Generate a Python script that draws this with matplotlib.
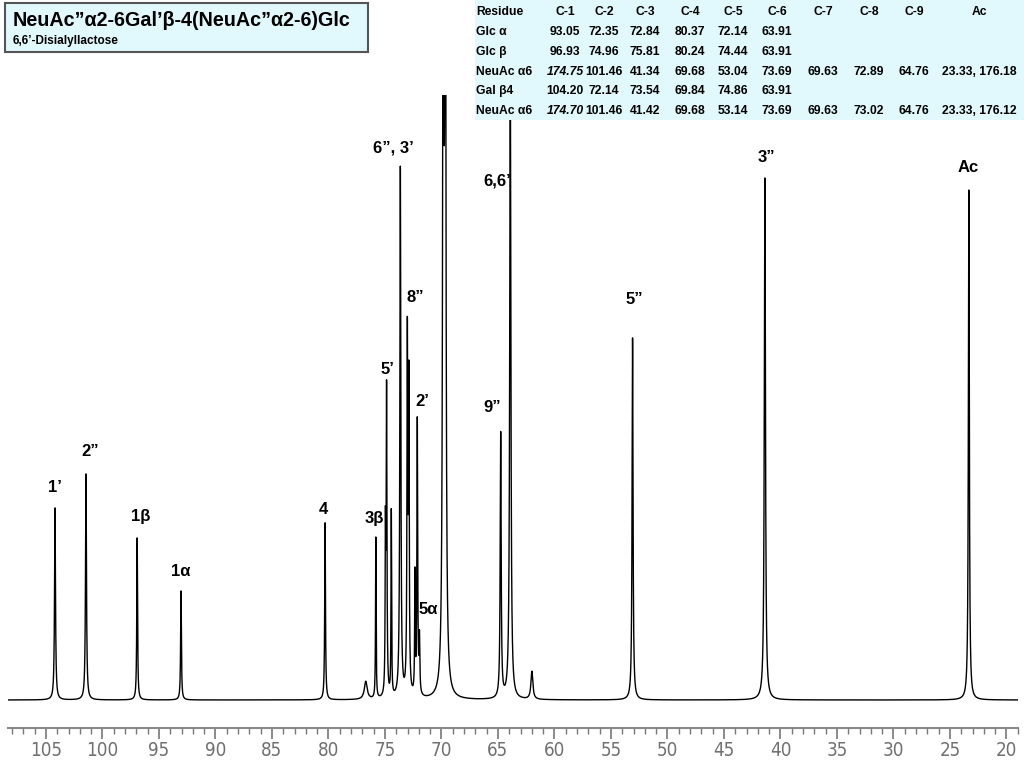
import matplotlib
matplotlib.use('agg')
import matplotlib.pyplot as plt
from matplotlib.patches import Rectangle
from matplotlib.ticker import MultipleLocator
import numpy as np

plt.rcParams['font.family'] = ['Liberation Sans', 'DejaVu Sans']

# peak list (ppm, height above baseline, half width)
peak_ppm = [104.20, 101.46, 96.93, 93.05, 80.30, 76.70, 75.81, 74.96, 74.86, 74.44,
            73.64, 73.02, 72.89, 72.35, 72.14, 71.95, 69.84, 69.66, 64.76, 63.91,
            62.00, 53.09, 41.38, 23.33]
peak_height = [192, 226, 162, 109, 177, 18, 161, 150, 305, 185,
               530, 352, 305, 118, 275, 55, 900, 900, 265, 640,
               28, 362, 522, 510]
peak_hwhm = [0.05, 0.05, 0.04, 0.04, 0.04, 0.15, 0.03, 0.03, 0.04, 0.03,
             0.05, 0.04, 0.04, 0.03, 0.04, 0.04, 0.06, 0.06, 0.05, 0.06,
             0.10, 0.05, 0.06, 0.05]

# assignments: label, ppm, height where the label sits
labels = [("1’", 104.2, 213), ("2”", 101.1, 248), ("1β", 96.59, 184), ("1α", 93.05, 129),
          ("4", 80.48, 190), ("3β", 75.97, 181), ("5’", 74.82, 331), ("6”, 3’", 74.29, 552),
          ("8”", 72.34, 403), ("2’", 71.72, 298), ("5α", 71.19, 90), ("9”", 65.53, 292),
          ("6,6’", 65.08, 519), ("5”", 52.96, 400), ("3”", 41.28, 543), ("Ac", 23.39, 532)]

# shift table
tab_cols = ["Residue", "C-1", "C-2", "C-3", "C-4", "C-5", "C-6", "C-7", "C-8", "C-9", "Ac"]
tab_rows = ["Glc α", "Glc β", "NeuAc α6", "Gal β4", "NeuAc α6"]
tab_vals = [
    ["93.05", "72.35", "72.84", "80.37", "72.14", "63.91", "", "", "", ""],
    ["96.93", "74.96", "75.81", "80.24", "74.44", "63.91", "", "", "", ""],
    ["174.75", "101.46", "41.34", "69.68", "53.04", "73.69", "69.63", "72.89", "64.76", "23.33, 176.18"],
    ["104.20", "72.14", "73.54", "69.84", "74.86", "63.91", "", "", "", ""],
    ["174.70", "101.46", "41.42", "69.68", "53.14", "73.69", "69.63", "73.02", "64.76", "23.33, 176.12"],
]

W, H = 1024, 768
fig = plt.figure(figsize=(W / 100, H / 100), dpi=100)
fig.patch.set_facecolor('white')

def fx(px):
    return px / W

def fy(py):
    return 1 - py / H

ax = fig.add_axes([fx(8), fy(728), fx(1018) - fx(8), fy(95) - fy(728)])

ppm = np.arange(108.4, 18.98, -0.005)
spec = np.zeros_like(ppm)
for p, h, w in zip(peak_ppm, peak_height, peak_hwhm):
    spec += h * w**2 / ((ppm - p)**2 + w**2)
ax.plot(ppm, spec, color='black', lw=1.0)

ax.set_xlim(108.36, 18.98)
ax.set_ylim(-28, 605)
for s in ['top', 'left', 'right']:
    ax.spines[s].set_visible(False)
ax.spines['bottom'].set_color('#888888')
ax.spines['bottom'].set_linewidth(1.5)
ax.set_yticks([])
ax.xaxis.set_major_locator(MultipleLocator(5))
ax.xaxis.set_minor_locator(MultipleLocator(1))
ax.tick_params(axis='x', which='major', length=8, width=1.2, color='#777777',
               labelcolor='#707070', labelsize=13.5, pad=1, direction='out')
ax.tick_params(axis='x', which='minor', length=4, width=1.0, color='#777777', direction='out')
for t in ax.get_xticklabels():
    t.set_family(['DejaVu Sans'])
    t.set_fontstretch('condensed')

for txt, x, y in labels:
    ax.text(x, y, txt, ha='center', va='center', fontsize=12, fontweight='bold')

# title box
fig.add_artist(Rectangle((fx(5), fy(52)), fx(368) - fx(5), fy(3) - fy(52),
                         transform=fig.transFigure, facecolor='#e1f8fc',
                         edgecolor='#555555', lw=1.5, zorder=5))
fig.text(fx(13), fy(21), "NeuAc”α2-6Gal’β-4(NeuAc”α2-6)Glc", fontsize=14.2,
         fontweight='bold', va='center', ha='left', zorder=6)
fig.text(fx(13), fy(41), "6,6’-Disialyllactose", fontsize=8.5,
         fontweight='bold', va='center', ha='left', zorder=6)

# table
fig.add_artist(Rectangle((fx(475), fy(120)), fx(1024) - fx(475), fy(0) - fy(120),
                         transform=fig.transFigure, facecolor='#e1f8fc',
                         edgecolor='none', zorder=5))
col_x = [476, 565, 604, 645, 690, 733, 777, 823, 869, 914, 979]
row_y = [12, 32, 52, 72, 91, 111]
for j, c in enumerate(tab_cols):
    fig.text(fx(col_x[j]), fy(row_y[0]), c, fontsize=8.7, fontweight='bold',
             ha='left' if j == 0 else 'center', va='center', zorder=6)
for i, r in enumerate(tab_rows):
    fig.text(fx(col_x[0]), fy(row_y[i + 1]), r, fontsize=8.7, fontweight='bold',
             ha='left', va='center', zorder=6)
    for j, v in enumerate(tab_vals[i]):
        style = 'italic' if v.startswith('174') else 'normal'
        fig.text(fx(col_x[j + 1]), fy(row_y[i + 1]), v, fontsize=8.7, fontweight='bold',
                 style=style, ha='center', va='center', zorder=6)

fig.savefig('out.png', dpi=100)
